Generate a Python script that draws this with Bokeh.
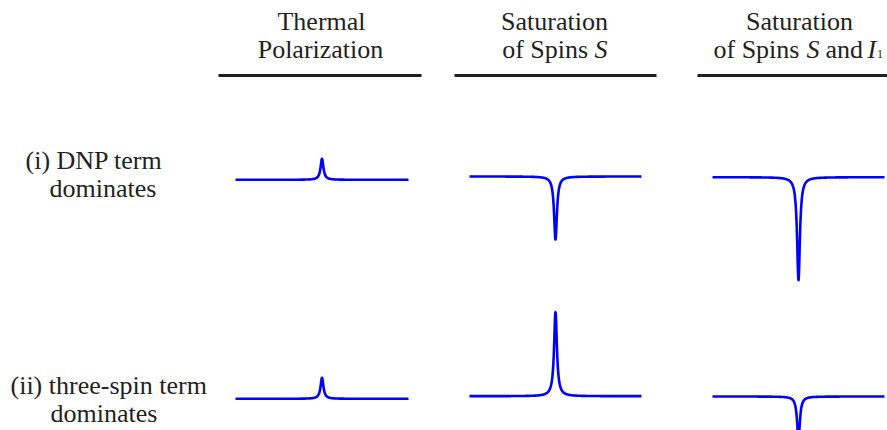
import numpy as np
from bokeh.plotting import figure
from bokeh.models import Range1d, Label
from bokeh.embed import file_html
from bokeh.resources import INLINE

# ---------------- data ----------------
col_title_line1 = ["Thermal", "Saturation", "Saturation"]
col_title_line2 = ["Polarization", "of Spins ", "of Spins "]
row_label_line1 = ["(i) DNP term", "(ii) three-spin term"]
row_label_line2 = ["dominates", "dominates"]

# peak amplitudes (units of the thermal signal), one per column
amp_dnp_dominates = [1.0, -3.0, -4.9]
amp_three_spin_dominates = [1.0, 4.0, -2.0]
# Lorentzian half width (frequency units, axis spans -1 .. 1)
hwhm = 0.02
freq = np.linspace(-1.0, 1.0, 4001)

# ---------------- layout (page pixels) ----------------
W, H = 887, 430
FONT = "Liberation Serif"
TXT = "#231f20"
BLUE = "#0000ff"
DY = -9  # text baseline correction

panel_x0 = [235, 469, 712]
panel_w = [173, 172, 172]
row_base = [[179.3, 176.0, 176.7], [398.3, 395.7, 396.0]]
px_per_unit = 21.0

p = figure(width=W, height=H, x_range=Range1d(0, W), y_range=Range1d(H, 0),
           output_backend="svg", toolbar_location=None, min_border=0,
           x_axis_location=None, y_axis_location=None)
p.grid.visible = False
p.outline_line_color = None
p.background_fill_color = "white"
p.border_fill_color = "white"


def lorentz(a):
    return a * hwhm ** 2 / (freq ** 2 + hwhm ** 2)


for r, amps in enumerate([amp_dnp_dominates, amp_three_spin_dominates]):
    for c, a in enumerate(amps):
        xs = panel_x0[c] + (freq + 1.0) / 2.0 * panel_w[c]
        ys = row_base[r][c] - px_per_unit * lorentz(a)
        p.line(xs, ys, line_color=BLUE, line_width=2.6, line_join="round")


def lab(x, y, t, size=26, align="left", style="normal"):
    p.add_layout(Label(x=x, y=y + DY, text=t, text_font=FONT, text_font_size=f"{size}px",
                       text_color=TXT, text_align=align, text_baseline="alphabetic",
                       text_font_style=style))


# column headers
hdr_center = [321, 554, 799]
for c in range(3):
    lab(hdr_center[c], 30, col_title_line1[c], align="center")
lab(320, 58, col_title_line2[0], align="center")
lab(501.7, 58, col_title_line2[1])
lab(594, 58, "S", style="italic")
lab(713, 58, col_title_line2[2])
lab(806, 58, "S", style="italic")
lab(825, 58, "and")
lab(867, 58, "I", style="italic")
lab(876.5, 62, "1", size=12)

# underlines
ul_x0 = [218, 454, 697]
ul_x1 = [421, 656, 900]
p.segment(x0=ul_x0, y0=[75] * 3, x1=ul_x1, y1=[75] * 3, line_color=TXT, line_width=3.2)

# row labels
lab(25, 169, row_label_line1[0])
lab(49, 197, row_label_line2[0])
lab(10, 394, row_label_line1[1])
lab(50, 422, row_label_line2[1])

open("out.html", "w").write(file_html(p, INLINE))
